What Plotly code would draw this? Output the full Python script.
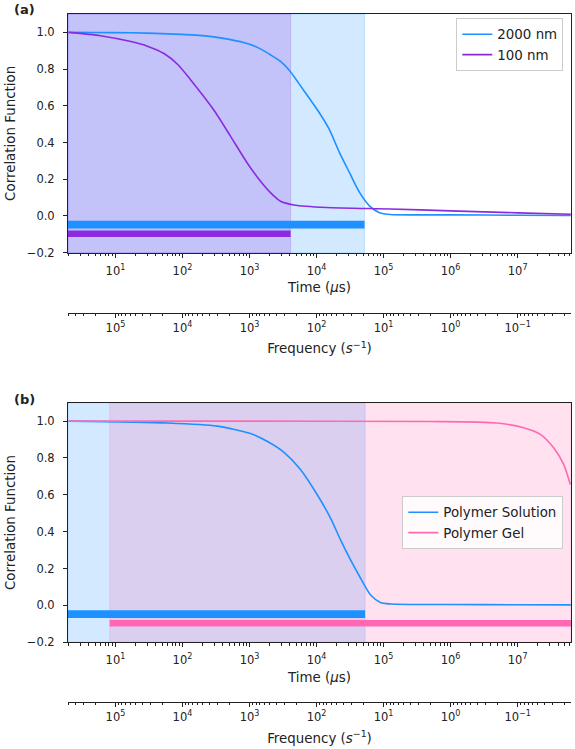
import math
import plotly.graph_objects as go

# ---------------- data ----------------
# panel (a): time in microseconds
t_2000nm = [2, 5, 17, 50, 160, 500, 1000, 1450, 2000, 2900, 4000, 6300, 11000, 15500,
            22000, 31000, 44000, 62000, 87000, 126000, 300000, 1e6, 1e7, 6.2e7]
g_2000nm = [1.000, 0.999, 0.998, 0.993, 0.985, 0.962, 0.935, 0.910, 0.880, 0.842, 0.790,
            0.689, 0.562, 0.471, 0.345, 0.236, 0.127, 0.054, 0.018, 0.008, 0.006,
            0.006, 0.004, 0.003]

t_100nm = [2, 6, 17, 30, 53, 85, 130, 290, 520, 920, 1450, 2050, 2900, 4600, 14000,
           125000, 1e6, 1e7, 6.2e7]
g_100nm = [1.000, 0.982, 0.950, 0.925, 0.885, 0.825, 0.745, 0.580, 0.435, 0.290, 0.190,
           0.127, 0.080, 0.060, 0.046, 0.038, 0.028, 0.017, 0.009]

# panel (b)
t_solution = [2, 60, 330, 1033, 1830, 3240, 5750, 10200, 16100, 22700, 32000,
              45200, 63700, 89700, 126500, 1e6, 1e7, 6.2e7]
g_solution = [1.000, 0.990, 0.973, 0.933, 0.891, 0.832, 0.738, 0.602, 0.475,
              0.357, 0.248, 0.149, 0.058, 0.016, 0.008, 0.005, 0.004, 0.003]

t_gel = [2, 1000, 500000, 4.9e6, 1.23e7, 2.18e7, 3.44e7, 4.86e7, 6.1e7]
g_gel = [1.000, 1.000, 0.998, 0.990, 0.964, 0.928, 0.855, 0.765, 0.656]

time_range = [1.96, 6.25e7]            # microseconds
freq_range = [1e6 / time_range[0], 1e6 / time_range[1]]  # s^-1

# shaded windows and bars (start, end) in microseconds
a_window_2000 = [1.96, 5.2e4]
a_window_100 = [1.96, 4.1e3]
b_window_solution = [1.96, 5.3e4]
b_window_gel = [8.2, 6.25e7]

bar_level_1 = [-0.068, -0.026]
bar_level_2 = [-0.114, -0.079]

time_tickvals = [1e1, 1e2, 1e3, 1e4, 1e5, 1e6, 1e7]
time_ticktext = ["10<sup>1</sup>", "10<sup>2</sup>", "10<sup>3</sup>", "10<sup>4</sup>",
                 "10<sup>5</sup>", "10<sup>6</sup>", "10<sup>7</sup>"]
freq_tickvals = [1e5, 1e4, 1e3, 1e2, 1e1, 1e0, 1e-1]
freq_ticktext = ["10<sup>5</sup>", "10<sup>4</sup>", "10<sup>3</sup>", "10<sup>2</sup>",
                 "10<sup>1</sup>", "10<sup>0</sup>", "10<sup>\u22121</sup>"]
y_tickvals = [-0.2, 0.0, 0.2, 0.4, 0.6, 0.8, 1.0]

# ---------------- style ----------------
BLUE = "#1E90FF"
PURPLE = "#8A2BE2"
PINK = "#FF69B4"
BLUE_A = "rgba(30,144,255,0.2)"
PURPLE_A = "rgba(138,43,226,0.2)"
PINK_A = "rgba(255,105,180,0.2)"
INK = "#222222"
FONT = "DejaVu Sans"


def minor_vals(lo, hi):
    out = []
    for e in range(math.floor(math.log10(lo)) - 1, math.ceil(math.log10(hi)) + 1):
        for m in range(2, 10):
            v = m * 10 ** e
            if lo <= v <= hi:
                out.append(v)
    return out


time_minor = minor_vals(time_range[0], time_range[1])
freq_minor = minor_vals(freq_range[1], freq_range[0])

fig = go.Figure()

LW = 1.6
SM = 0.7
fig.add_trace(go.Scatter(x=t_2000nm, y=g_2000nm, mode="lines", name="2000 nm",
                         line=dict(color=BLUE, width=LW, shape="spline", smoothing=SM),
                         xaxis="x", yaxis="y", legend="legend"))
fig.add_trace(go.Scatter(x=t_100nm, y=g_100nm, mode="lines", name="100 nm",
                         line=dict(color=PURPLE, width=LW, shape="spline", smoothing=SM),
                         xaxis="x", yaxis="y", legend="legend"))
fig.add_trace(go.Scatter(x=t_solution, y=g_solution, mode="lines", name="Polymer Solution",
                         line=dict(color=BLUE, width=LW, shape="spline", smoothing=SM),
                         xaxis="x2", yaxis="y2", legend="legend2"))
fig.add_trace(go.Scatter(x=t_gel, y=g_gel, mode="lines", name="Polymer Gel",
                         line=dict(color=PINK, width=LW, shape="spline", smoothing=SM),
                         xaxis="x2", yaxis="y2", legend="legend2"))
# carriers for the frequency axes
fig.add_trace(go.Scatter(x=freq_range, y=[None, None], mode="lines", showlegend=False,
                         hoverinfo="skip", xaxis="x3", yaxis="y"))
fig.add_trace(go.Scatter(x=freq_range, y=[None, None], mode="lines", showlegend=False,
                         hoverinfo="skip", xaxis="x4", yaxis="y2"))

shapes = []


def vband(xr, color, xref, yref):
    shapes.append(dict(type="rect", xref=xref, yref=yref + " domain", x0=xr[0], x1=xr[1],
                       y0=0, y1=1, fillcolor=color, line=dict(width=1, color=color),
                       layer="below"))


def bar(xr, yr, color, xref, yref):
    shapes.append(dict(type="rect", xref=xref, yref=yref, x0=xr[0], x1=xr[1],
                       y0=yr[0], y1=yr[1], fillcolor=color, line=dict(width=0), layer="above"))


vband(a_window_2000, BLUE_A, "x", "y")
vband(a_window_100, PURPLE_A, "x", "y")
bar(a_window_2000, bar_level_1, BLUE, "x", "y")
bar(a_window_100, bar_level_2, PURPLE, "x", "y")

vband(b_window_solution, BLUE_A, "x2", "y2")
vband(b_window_gel, PINK_A, "x2", "y2")
bar(b_window_solution, bar_level_1, BLUE, "x2", "y2")
bar(b_window_gel, bar_level_2, PINK, "x2", "y2")

# geometry (paper fractions)
PB = 702.0   # paper bottom px
PT = 14.0    # paper top px
H = PB - PT


def py(px):
    return (PB - px) / H


top_dom = [py(252.7), 1.0]
bot_dom = [py(642.3), py(402.7)]
freq_top_pos = py(312.7)

tickfont = dict(family=FONT, size=11.5, color=INK)
titlefont = dict(family=FONT, size=13.4, color=INK)


def time_axis(anchor):
    return dict(type="log", range=[math.log10(time_range[0]), math.log10(time_range[1])],
                domain=[0, 1], anchor=anchor, showline=True, linecolor=INK, linewidth=1,
                mirror=True, ticks="outside", ticklen=4, tickwidth=1, tickcolor=INK,
                tickmode="array", tickvals=time_tickvals, ticktext=time_ticktext,
                tickfont=tickfont, showgrid=False, zeroline=False, automargin=False,
                ticklabelstandoff=3,
                minor=dict(ticks="outside", ticklen=2.2, tickwidth=0.8, tickcolor=INK,
                           tickmode="array", tickvals=time_minor, showgrid=False),
                title=dict(text="Time (<i>\u03bc</i>s)", font=titlefont, standoff=6))


def freq_axis(overlay, pos):
    return dict(type="log", range=[math.log10(freq_range[0]), math.log10(freq_range[1])],
                domain=[0, 1], anchor="free", overlaying=overlay, position=pos, side="bottom",
                showline=True, linecolor=INK, linewidth=1, mirror=False,
                ticks="outside", ticklen=4, tickwidth=1, tickcolor=INK,
                tickmode="array", tickvals=freq_tickvals, ticktext=freq_ticktext,
                tickfont=tickfont, showgrid=False, zeroline=False, automargin=False,
                minor=dict(ticks="outside", ticklen=2.2, tickwidth=0.8, tickcolor=INK,
                           tickmode="array", tickvals=freq_minor, showgrid=False),
                title=dict(text="Frequency (<i>s</i><sup>\u22121</sup>)", font=titlefont,
                           standoff=10))


def y_axis(dom, anchor):
    return dict(range=[-0.2, 1.1], domain=dom, anchor=anchor, showline=True, linecolor=INK,
                linewidth=1, mirror=True, ticks="outside", ticklen=4, tickwidth=1,
                tickcolor=INK, tickmode="array", tickvals=y_tickvals, tickformat=".1f",
                tickfont=tickfont, showgrid=False, zeroline=False, automargin=False,
                ticklabelstandoff=6,
                title=dict(text="Correlation Function", font=titlefont, standoff=8))


legend_common = dict(bgcolor="rgba(255,255,255,0.85)", bordercolor="#cccccc", borderwidth=1,
                     font=dict(family=FONT, size=13.4, color=INK), xanchor="right",
                     yanchor="top", itemwidth=30, tracegroupgap=0)

fig.update_layout(
    width=575, height=749,
    margin=dict(l=68, r=4, t=PT, b=749 - PB),
    paper_bgcolor="white", plot_bgcolor="white",
    font=dict(family=FONT, color=INK),
    xaxis=time_axis("y"),
    yaxis=y_axis(top_dom, "x"),
    xaxis2=time_axis("y2"),
    yaxis2=y_axis(bot_dom, "x2"),
    xaxis3=freq_axis("x", freq_top_pos),
    xaxis4=freq_axis("x2", 0.0),
    legend=dict(x=(563.3 - 68) / 503, y=py(18), **legend_common),
    legend2=dict(x=(563.3 - 68) / 503, y=py(496), **legend_common),
    shapes=shapes,
    annotations=[
        dict(text="<b>(a)</b>", xref="paper", yref="paper", x=(12 - 68) / 503, y=py(10),
             xanchor="left", yanchor="middle", showarrow=False,
             font=dict(family=FONT, size=13, color=INK)),
        dict(text="<b>(b)</b>", xref="paper", yref="paper", x=(12 - 68) / 503, y=py(399),
             xanchor="left", yanchor="middle", showarrow=False,
             font=dict(family=FONT, size=13, color=INK)),
    ],
    showlegend=True,
)

fig.write_html("out.html", config={"displayModeBar": False},
               post_script="document.body.style.margin='0';document.body.style.padding='0';")
